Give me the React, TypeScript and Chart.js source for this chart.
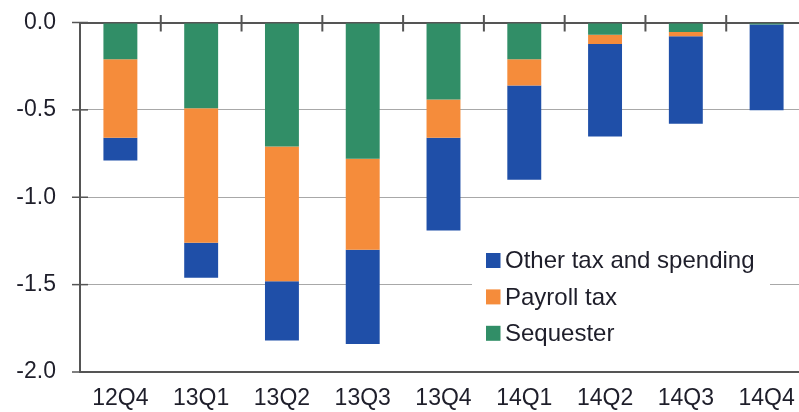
import React, { useEffect, useRef } from 'react';
import { Chart, registerables } from 'chart.js';

Chart.register(...registerables);

const categories = ['12Q4', '13Q1', '13Q2', '13Q3', '13Q4', '14Q1', '14Q2', '14Q3', '14Q4'];
const sequester = [-0.21, -0.49, -0.71, -0.78, -0.44, -0.21, -0.07, -0.055, -0.012];
const payrollTax = [-0.45, -0.77, -0.77, -0.52, -0.22, -0.15, -0.053, -0.024, 0];
const otherTaxSpending = [-0.13, -0.2, -0.34, -0.54, -0.53, -0.54, -0.53, -0.5, -0.49];
const legendOrder = ['Other tax and spending', 'Payroll tax', 'Sequester'];

const GREEN = '#318e67';
const ORANGE = '#f58c3b';
const BLUE = '#1f4fa8';
const FONT = '"Liberation Sans", Arial, sans-serif';
const TEXT = '#1e1e2a';

const decorPlugin = {
  id: 'decor',
  afterDraw(chart: any) {
    const ctx = chart.ctx;
    const xs = chart.scales.x;
    const ys = chart.scales.y;
    const zeroY = ys.getPixelForValue(0);
    ctx.save();
    ctx.strokeStyle = '#555';
    ctx.lineWidth = 2;
    for (let i = 1; i < categories.length; i++) {
      const px = (xs.getPixelForValue(i - 1) + xs.getPixelForValue(i)) / 2;
      ctx.beginPath();
      ctx.moveTo(px, zeroY - 7.5);
      ctx.lineTo(px, zeroY + 9);
      ctx.stroke();
    }
    ctx.lineWidth = 1.5;
    ys.ticks.forEach((t: any) => {
      const py = ys.getPixelForValue(t.value);
      ctx.beginPath();
      ctx.moveTo(xs.left - 8, py);
      ctx.lineTo(xs.left + 8, py);
      ctx.stroke();
    });
    const ds = chart.data.datasets;
    ctx.fillStyle = '#fff';
    ctx.fillRect(472, 242, 298, 108);
    ctx.font = `24px ${FONT}`;
    ctx.textBaseline = 'middle';
    ctx.textAlign = 'left';
    legendOrder.forEach((label, i) => {
      const d = ds.find((dd: any) => dd.label === label);
      const cy = 260.5 + i * 36.4;
      ctx.fillStyle = d.backgroundColor;
      ctx.fillRect(486, cy - 7.5, 14.5, 15);
      ctx.fillStyle = TEXT;
      ctx.fillText(label, 505, cy + 1);
    });
    ctx.restore();
  },
};

export default function App() {
  const ref = useRef<HTMLCanvasElement>(null);
  useEffect(() => {
    if (!ref.current) return;
    const chart = new Chart(ref.current, {
      type: 'bar',
      data: {
        labels: categories,
        datasets: [
          { label: 'Sequester', data: sequester, backgroundColor: GREEN },
          { label: 'Payroll tax', data: payrollTax, backgroundColor: ORANGE },
          { label: 'Other tax and spending', data: otherTaxSpending, backgroundColor: BLUE },
        ],
      },
      options: {
        responsive: false,
        animation: false,
        events: [],
        layout: { padding: { top: 22.5, left: 0, right: 0, bottom: 0 } },
        datasets: { bar: { categoryPercentage: 1, barPercentage: 0.42, borderWidth: 0 } },
        plugins: { legend: { display: false }, tooltip: { enabled: false } },
        scales: {
          x: {
            stacked: true,
            grid: { display: false, drawTicks: false },
            border: { display: true, color: '#555', width: 2 },
            ticks: { color: TEXT, font: { family: FONT, size: 23 }, padding: 13, maxRotation: 0, autoSkip: false },
            afterFit: (s: any) => { s.height = 40; s.paddingLeft = 0; s.paddingRight = 0; },
          },
          y: {
            stacked: true,
            min: -2,
            max: 0,
            grid: {
              drawTicks: false,
              color: (c: any) => (c.tick && (c.tick.value === 0 || c.tick.value === -2) ? '#555' : '#a8a8a8'),
              lineWidth: (c: any) => (c.tick && (c.tick.value === 0 || c.tick.value === -2) ? 2 : 1),
            },
            border: { display: true, color: '#555', width: 2 },
            ticks: {
              stepSize: 0.5,
              padding: 24,
              color: TEXT,
              font: { family: FONT, size: 23 },
              callback: (v: any) => Number(v).toFixed(1),
            },
            afterFit: (s: any) => { s.width = 80; s.paddingTop = 0; s.paddingBottom = 0; },
          },
        },
      },
      plugins: [decorPlugin],
    });
    return () => chart.destroy();
  }, []);
  return (
    <div style={{ position: 'fixed', left: 0, top: 0, width: 799, height: 412, overflow: 'hidden', background: '#fff' }}>
      <canvas ref={ref} width={807} height={412} style={{ display: 'block' }} />
    </div>
  );
}
